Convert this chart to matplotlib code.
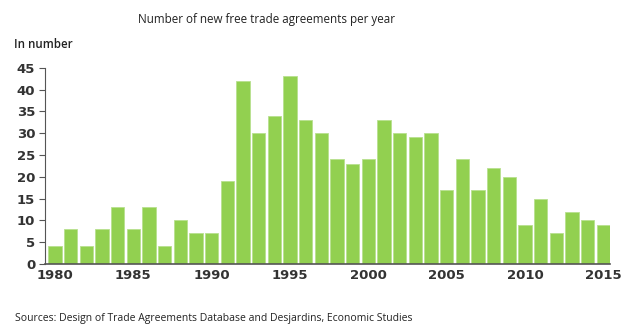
import matplotlib
matplotlib.use("Agg")
import matplotlib.pyplot as plt

years = list(range(1980, 2016))
agreements = [4, 8, 4, 8, 13, 8, 13, 4, 10, 7,
              7, 19, 42, 30, 34, 43, 33, 30, 24, 23,
              24, 33, 30, 29, 30, 17, 24, 17, 22, 20,
              9, 15, 7, 12, 10, 9]
yticks = list(range(0, 50, 5))
xticks = list(range(1980, 2020, 5))

green = "#92d050"
txt = "#333333"

fig = plt.figure(figsize=(6.24, 3.32), dpi=100)
ax = fig.add_axes([0.072, 0.205, 0.906, 0.591])

ax.bar(years, agreements, width=0.85, color=green, edgecolor="#b8e08e", linewidth=0.6)

ax.set_xlim(1979.36, 2015.45)
ax.set_ylim(0, 45)
ax.set_yticks(yticks)
ax.set_xticks(xticks)
ax.tick_params(axis="y", length=4, width=0.8, color="#555555", pad=3,
               labelsize=9.5, labelcolor=txt)
ax.tick_params(axis="x", length=0, pad=4, labelsize=9.5, labelcolor=txt)
for lab in ax.get_xticklabels() + ax.get_yticklabels():
    lab.set_fontweight("bold")

for s in ["top", "right"]:
    ax.spines[s].set_visible(False)
ax.spines["left"].set_color("#555555")
ax.spines["bottom"].set_color("#555555")
ax.spines["left"].set_linewidth(0.8)
ax.spines["bottom"].set_linewidth(1.2)

fig.text(267 / 624, 1 - 20 / 332, "Number of new free trade agreements per year",
         ha="center", va="center", fontsize=8.4, color="#222222",
         family=["Open Sans", "DejaVu Sans"])
fig.text(14 / 624, 1 - 44 / 332, "In number", ha="left", va="center",
         fontsize=8.3, color="#222222", fontweight="semibold",
         family=["Open Sans", "DejaVu Sans"])
fig.text(15 / 624, 1 - 318 / 332,
         "Sources: Design of Trade Agreements Database and Desjardins, Economic Studies",
         ha="left", va="center", fontsize=7.5, color="#222222",
         family=["Liberation Sans Narrow", "Open Sans", "DejaVu Sans"])

fig.savefig("out.png", dpi=100)
